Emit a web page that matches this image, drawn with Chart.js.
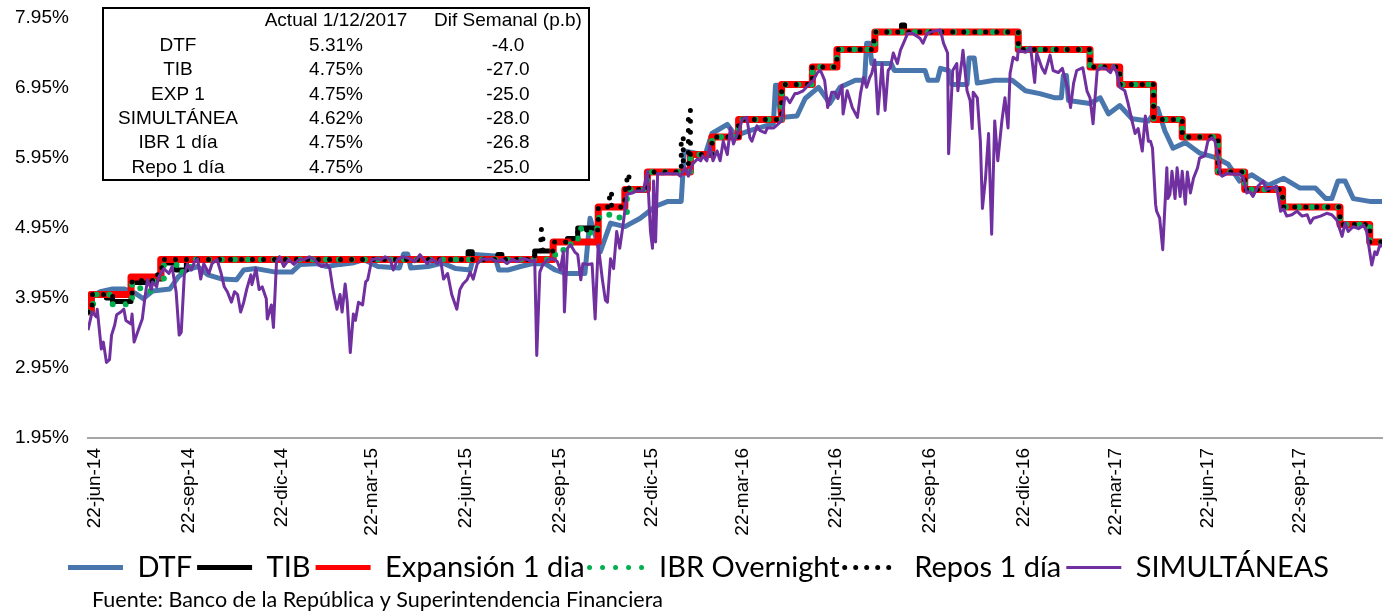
<!DOCTYPE html>
<html lang="es">
<head>
<meta charset="utf-8">
<title>Tasas de interés de corto plazo</title>
<script src="https://cdn.jsdelivr.net/npm/chart.js@4.4.0/dist/chart.umd.min.js"></script>
<style>
  html, body { margin: 0; padding: 0; background: #fff; }
  #wrap { width: 1384px; height: 614px; }
</style>
</head>
<body>
<div id="wrap"><canvas id="chart"></canvas></div>
<script>
// Eje X en días desde el 22-jun-14
const xTickLabels = ['22-jun-14', '22-sep-14', '22-dic-14', '22-mar-15', '22-jun-15', '22-sep-15', '22-dic-15',
    '22-mar-16', '22-jun-16', '22-sep-16', '22-dic-16', '22-mar-17', '22-jun-17', '22-sep-17'];
const xTickDays = [1, 92, 183, 271, 363, 454, 544, 633, 724, 816, 907, 997, 1087, 1177];
const yTicks = [1.95, 2.95, 3.95, 4.95, 5.95, 6.95, 7.95];

// [día, tasa %]
const dtf = [[-6,3.94],[6,4.04],[18,4.08],[29,4.08],[40,4.02],[48,3.94],[57,4.05],[74,4.08],[82,4.25],[90,4.35],
    [101,4.40],[111,4.28],[125,4.22],[139,4.21],[146,4.35],[158,4.37],[177,4.32],[193,4.32],[201,4.43],[217,4.44],
    [227,4.40],[240,4.43],[252,4.45],[263,4.50],[277,4.40],[298,4.38],[302,4.58],[306,4.58],[309,4.38],[326,4.40],
    [340,4.45],[353,4.37],[367,4.35],[371,4.57],[391,4.55],[395,4.35],[404,4.35],[416,4.40],[427,4.44],[440,4.44],
    [450,4.35],[460,4.30],[479,4.30],[484,5.09],[494,4.61],[504,5.02],[518,4.97],[533,5.09],[548,5.26],[560,5.33],
    [573,5.33],[576,6.05],[587,6.02],[596,5.98],[603,6.30],[618,6.43],[626,6.27],[640,6.34],[663,6.44],[665,6.99],
    [667,6.99],[670,6.53],[686,6.55],[694,6.80],[707,6.96],[718,6.73],[728,6.96],[743,7.06],[752,7.06],[754,7.59],
    [757,7.59],[759,7.30],[778,7.30],[781,7.20],[811,7.20],[814,7.06],[823,7.06],[826,7.23],[834,7.20],[837,7.00],
    [852,7.00],[854,7.38],[859,7.38],[862,7.02],[879,7.06],[896,7.06],[909,6.91],[923,6.87],[938,6.81],[944,6.81],
    [946,7.13],[949,7.13],[951,6.77],[972,6.73],[982,6.81],[990,6.58],[1001,6.70],[1013,6.51],[1029,6.48],[1038,6.66],
    [1045,6.34],[1053,6.09],[1065,6.17],[1079,6.02],[1094,5.96],[1107,5.86],[1118,5.62],[1130,5.71],[1146,5.56],
    [1161,5.66],[1177,5.52],[1192,5.52],[1202,5.37],[1208,5.37],[1214,5.62],[1221,5.62],[1229,5.37],[1245,5.33],[1257,5.33]];

const tib = [[-6,3.75],[-2,4.00],[12,3.95],[18,3.90],[36,4.17],[60,4.22],[66,4.45],[80,4.35],[90,4.50],[365,4.61],
    [369,4.50],[394,4.57],[398,4.50],[430,4.62],[448,4.75],[462,4.80],[472,4.95],[492,5.25],[518,5.50],[540,5.75],
    [582,6.00],[603,6.25],[629,6.50],[671,7.00],[701,7.25],[725,7.50],[762,7.75],[788,7.85],[791,7.75],[902,7.50],
    [972,7.25],[1001,7.00],[1034,6.50],[1062,6.25],[1097,5.75],[1123,5.50],[1160,5.25],[1216,5.00],[1245,4.75],[1257,4.75]];

const expansion = [[-6,3.75],[-3,4.00],[36,4.25],[65,4.50],[448,4.75],[492,5.25],[518,5.50],[540,5.75],[582,6.00],
    [603,6.25],[629,6.50],[671,7.00],[701,7.25],[725,7.50],[762,7.75],[902,7.50],[972,7.25],[1001,7.00],[1034,6.50],
    [1062,6.25],[1097,5.75],[1123,5.50],[1160,5.25],[1216,5.00],[1245,4.75],[1257,4.75]];

const ibr = [[-6,3.75],[-1,4.00],[15,3.86],[36,3.94],[37,4.15],[45,4.05],[58,4.20],[68,4.42],[86,4.32],[94,4.50],
    [450,4.60],[458,4.71],[465,4.80],[475,4.94],[484,4.87],[491,5.02],[493,5.14],[504,5.10],[520,5.50],[540,5.75],
    [582,6.00],[603,6.25],[629,6.50],[671,7.00],[701,7.25],[725,7.50],[762,7.75],[902,7.50],[972,7.25],[1001,7.00],
    [1034,6.50],[1062,6.25],[1097,5.75],[1123,5.50],[1160,5.25],[1216,5.00],[1245,4.75],[1257,4.75]];

const repos = [[-6,3.75],[-2,4.00],[18,3.90],[37,4.20],[62,4.30],[66,4.50],[430,4.62],[436,4.93],[438,4.62],[448,4.75],
    [462,4.80],[472,4.92],[492,5.25],[503,5.47],[505,5.25],[518,5.50],[520,5.72],[522,5.50],[540,5.75],[573,6.25],
    [575,5.85],[580,6.63],[582,6.00],[603,6.25],[629,6.50],[671,7.00],[701,7.25],[725,7.50],[760,7.62],[762,7.75],
    [902,7.50],[972,7.25],[1001,7.00],[1034,6.50],[1062,6.25],[1097,5.75],[1123,5.50],[1160,5.25],[1216,5.00],
    [1245,4.75],[1257,4.75]];

const simultaneas = [[-6,3.49],[-2,3.75],[2,3.68],[3,3.79],[7,3.22],[9,3.32],[12,3.03],[15,3.07],[17,3.42],[20,3.56],
    [22,3.71],[26,3.75],[29,3.79],[31,3.63],[36,3.58],[37,3.72],[39,3.32],[44,3.53],[47,3.65],[49,3.89],[52,4.21],
    [56,4.07],[57,4.18],[61,4.11],[63,4.25],[68,4.37],[73,4.30],[76,4.40],[80,4.04],[83,3.42],[85,3.46],[88,4.28],
    [91,4.43],[95,4.35],[98,4.47],[101,4.51],[104,4.22],[107,4.44],[112,4.30],[115,4.44],[120,4.50],[124,4.30],
    [127,4.11],[130,4.04],[134,3.89],[137,4.04],[140,4.00],[143,3.75],[146,3.89],[149,4.08],[153,4.28],[154,4.14],
    [158,4.37],[161,4.07],[164,4.11],[168,3.94],[169,3.65],[173,3.85],[175,3.53],[178,4.47],[181,4.54],[185,4.40],
    [190,4.50],[195,4.43],[200,4.50],[205,4.50],[210,4.54],[215,4.50],[219,4.43],[222,4.40],[227,4.43],[230,4.37],
    [233,4.08],[237,3.79],[240,4.00],[242,3.75],[245,4.15],[247,3.89],[250,3.17],[253,3.72],[255,3.63],[258,3.89],
    [262,3.85],[265,4.18],[267,4.21],[271,4.50],[276,4.51],[280,4.50],[284,4.54],[289,4.50],[292,4.35],[296,4.50],
    [302,4.54],[308,4.51],[313,4.47],[318,4.57],[325,4.44],[330,4.51],[335,4.44],[338,4.51],[341,4.22],[345,4.30],
    [349,4.00],[354,3.79],[357,4.07],[360,4.15],[364,4.21],[367,4.32],[370,4.22],[374,4.44],[379,4.51],[384,4.50],
    [388,4.51],[393,4.47],[398,4.50],[403,4.44],[408,4.50],[413,4.47],[418,4.51],[423,4.50],[427,4.47],[430,4.50],
    [432,3.13],[435,4.32],[438,4.43],[443,4.50],[448,4.51],[452,4.47],[455,4.35],[458,4.61],[459,3.75],[462,4.66],
    [465,4.71],[469,4.61],[472,4.57],[475,4.21],[477,4.44],[482,4.43],[486,4.44],[489,3.65],[492,4.71],[496,4.22],
    [499,3.92],[501,3.89],[504,4.51],[507,4.37],[510,4.90],[513,4.66],[516,4.97],[520,5.43],[525,5.45],[530,5.48],
    [536,5.48],[540,5.76],[543,4.90],[545,4.66],[546,5.62],[548,4.75],[550,5.73],[555,5.72],[560,5.73],[565,5.72],
    [569,5.73],[572,5.69],[577,5.81],[580,5.69],[584,5.86],[589,5.94],[592,5.91],[594,5.98],[598,5.91],[601,6.12],
    [604,5.91],[608,6.05],[611,5.91],[614,6.19],[618,6.00],[621,6.38],[624,6.15],[629,6.34],[633,6.51],[637,6.53],
    [640,6.24],[642,6.19],[647,6.41],[650,6.34],[655,6.31],[657,6.38],[663,6.38],[665,6.40],[671,6.48],[674,6.81],
    [676,6.81],[679,6.74],[684,6.87],[686,6.87],[692,6.91],[697,6.99],[702,7.06],[706,7.17],[709,7.20],[713,7.06],
    [716,6.67],[720,6.89],[723,6.89],[726,6.80],[730,6.99],[731,6.58],[735,6.91],[738,6.77],[740,6.67],[745,6.53],
    [748,6.87],[751,7.10],[754,6.96],[757,7.10],[759,7.16],[762,7.35],[765,6.58],[769,7.30],[772,6.63],[775,7.20],
    [777,7.24],[780,7.45],[784,7.30],[787,7.49],[790,7.59],[794,7.73],[799,7.73],[806,7.66],[809,7.59],[813,7.73],
    [819,7.76],[826,7.78],[829,7.59],[833,7.45],[834,6.01],[838,7.20],[842,7.30],[843,6.91],[847,7.35],[848,7.49],
    [852,6.91],[855,6.77],[857,6.37],[858,6.89],[862,6.81],[865,6.19],[867,5.23],[870,5.66],[873,6.30],[876,4.86],
    [879,6.48],[882,5.91],[886,6.48],[889,6.81],[892,6.38],[894,7.16],[897,7.39],[901,7.35],[902,7.49],[909,7.46],
    [914,7.53],[918,7.03],[920,7.45],[925,7.24],[928,7.16],[933,7.42],[936,7.20],[941,7.17],[945,7.23],[950,6.96],
    [953,6.67],[956,7.02],[959,7.20],[965,7.24],[969,6.91],[972,6.81],[975,6.44],[979,7.20],[983,7.24],[987,7.23],
    [992,7.17],[995,7.27],[998,7.17],[1001,6.96],[1006,6.91],[1009,6.74],[1013,6.48],[1016,6.30],[1019,6.37],
    [1023,6.05],[1026,6.55],[1029,6.19],[1031,6.19],[1033,6.09],[1036,5.29],[1037,5.19],[1040,5.09],[1043,4.64],
    [1045,5.23],[1047,5.81],[1048,5.37],[1050,5.43],[1052,5.76],[1055,5.37],[1057,5.81],[1060,5.40],[1062,5.76],
    [1065,5.29],[1067,5.75],[1070,5.45],[1073,5.66],[1077,5.81],[1079,5.95],[1084,5.98],[1087,6.19],[1091,6.24],
    [1094,6.19],[1097,5.95],[1099,5.72],[1101,5.69],[1106,5.73],[1111,5.72],[1118,5.72],[1122,5.66],[1125,5.45],
    [1128,5.47],[1131,5.40],[1136,5.55],[1141,5.62],[1144,5.50],[1150,5.52],[1154,5.55],[1158,5.19],[1161,5.22],
    [1164,5.12],[1169,5.14],[1174,5.19],[1179,5.12],[1184,5.14],[1187,5.02],[1190,5.09],[1197,5.12],[1203,5.16],
    [1208,5.14],[1213,5.06],[1218,4.83],[1221,5.02],[1224,4.90],[1229,4.97],[1234,4.94],[1239,4.99],[1242,4.90],
    [1245,4.61],[1247,4.42],[1250,4.61],[1252,4.57],[1255,4.71],[1257,4.68]];

// Cuadro resumen
const tableHeader = ['Actual 1/12/2017', 'Dif Semanal (p.b)'];
const tableNames = ['DTF', 'TIB', 'EXP 1', 'SIMULTÁNEA', 'IBR 1 día', 'Repo 1 día'];
const tableActual = ['5.31%', '4.75%', '4.75%', '4.62%', '4.75%', '4.75%'];
const tableDif = ['-4.0', '-27.0', '-25.0', '-28.0', '-26.8', '-25.0'];

const fuente = 'Fuente: Banco de la República y Superintendencia Financiera';

function toPoints(pairs) {
    return pairs.map(p => ({x: p[0], y: p[1]}));
}

// tabla y fuente dibujadas encima del gráfico
const extrasPlugin = {
    id: 'extras',
    afterDraw(chart) {
        const ctx = chart.ctx;
        const area = chart.chartArea;
        const left = area.left + 15, top = 8, w = 486, h = 172;
        ctx.save();
        ctx.fillStyle = '#ffffff';
        ctx.fillRect(left, top, w, h);
        ctx.strokeStyle = '#000000';
        ctx.lineWidth = 2;
        ctx.strokeRect(left, top, w, h);

        ctx.fillStyle = '#000000';
        ctx.font = '19px "Liberation Sans", Arial, sans-serif';
        ctx.textAlign = 'center';
        ctx.textBaseline = 'middle';
        const cols = [left + 75, left + 233, left + 405];
        ctx.fillText(tableHeader[0], cols[1], top + 13);
        ctx.fillText(tableHeader[1], cols[2], top + 13);
        tableNames.forEach((name, i) => {
            const y = top + 37.5 + i * 24.4;
            ctx.fillText(name, cols[0], y);
            ctx.fillText(tableActual[i], cols[1], y);
            ctx.fillText(tableDif[i], cols[2], y);
        });

        ctx.textAlign = 'left';
        ctx.font = '21.5px Lato, "Open Sans", sans-serif';
        ctx.fillText(fuente, area.left + 4, chart.height - 14);
        ctx.restore();
    }
};

const ctx = document.getElementById('chart').getContext('2d');
new Chart(ctx, {
    type: 'line',
    data: {
        datasets: [
            {label: 'DTF', data: toPoints(dtf), borderColor: '#4A76AE', backgroundColor: '#4A76AE',
                borderWidth: 5, order: 6},
            {label: 'TIB', data: toPoints(tib), borderColor: '#000000', backgroundColor: '#000000',
                borderWidth: 5, stepped: true, order: 5},
            {label: 'Expansión 1 dia', data: toPoints(expansion), borderColor: '#FF0000', backgroundColor: '#FF0000',
                borderWidth: 7, stepped: true, order: 4},
            {label: 'IBR Overnight', data: toPoints(ibr), borderColor: '#00B050', backgroundColor: '#00B050',
                borderWidth: 6, borderDash: [0, 13], borderCapStyle: 'round', stepped: true, order: 3},
            {label: 'Repos 1 día', data: toPoints(repos), borderColor: '#000000', backgroundColor: '#000000',
                borderWidth: 5, borderDash: [0, 11], borderCapStyle: 'round', stepped: true, order: 2},
            {label: 'SIMULTÁNEAS', data: toPoints(simultaneas), borderColor: '#7030A0', backgroundColor: '#7030A0',
                borderWidth: 3, order: 1}
        ]
    },
    options: {
        responsive: true,
        maintainAspectRatio: false,
        animation: false,
        layout: {padding: {top: 18, right: 2, left: 15, bottom: 22}},
        elements: {
            point: {radius: 0},
            line: {tension: 0, borderJoinStyle: 'round', fill: false}
        },
        scales: {
            x: {
                type: 'linear',
                min: -6,
                max: 1257,
                afterBuildTicks: axis => { axis.ticks = xTickDays.map(v => ({value: v})); },
                afterFit: scale => { scale.height = 110; },
                ticks: {
                    autoSkip: false,
                    minRotation: 90,
                    maxRotation: 90,
                    padding: 10,
                    color: '#000000',
                    font: {family: '"Liberation Sans", Arial, sans-serif', size: 19},
                    callback: (value, index) => xTickLabels[index]
                },
                grid: {display: false, drawTicks: false},
                border: {display: true, color: '#A6A6A6', width: 2}
            },
            y: {
                min: 1.95,
                max: 7.95,
                afterBuildTicks: axis => { axis.ticks = yTicks.map(v => ({value: v})); },
                afterFit: scale => { scale.width = 73; },
                ticks: {
                    padding: 0,
                    crossAlign: 'far',
                    color: '#000000',
                    font: {family: '"Liberation Sans", Arial, sans-serif', size: 19},
                    callback: value => value.toFixed(2) + '%'
                },
                grid: {display: false, drawTicks: false},
                border: {display: false}
            }
        },
        plugins: {
            legend: {
                position: 'bottom',
                labels: {
                    usePointStyle: true,
                    pointStyle: 'line',
                    pointStyleWidth: 55,
                    boxWidth: 55,
                    padding: 5,
                    color: '#000000',
                    font: {family: 'Lato, "Open Sans", sans-serif', size: 29},
                    sort: (a, b) => a.datasetIndex - b.datasetIndex,
                    generateLabels: chart => {
                        const items = Chart.defaults.plugins.legend.labels.generateLabels(chart);
                        items.forEach(item => {
                            const ds = chart.data.datasets[item.datasetIndex];
                            item.lineDash = ds.borderDash || [];
                            item.lineCap = ds.borderCapStyle || 'butt';
                            item.lineWidth = Math.min(ds.borderWidth, 5);
                            item.strokeStyle = ds.borderColor;
                        });
                        return items;
                    }
                }
            },
            tooltip: {enabled: false}
        }
    },
    plugins: [extrasPlugin]
});
</script>
</body>
</html>
